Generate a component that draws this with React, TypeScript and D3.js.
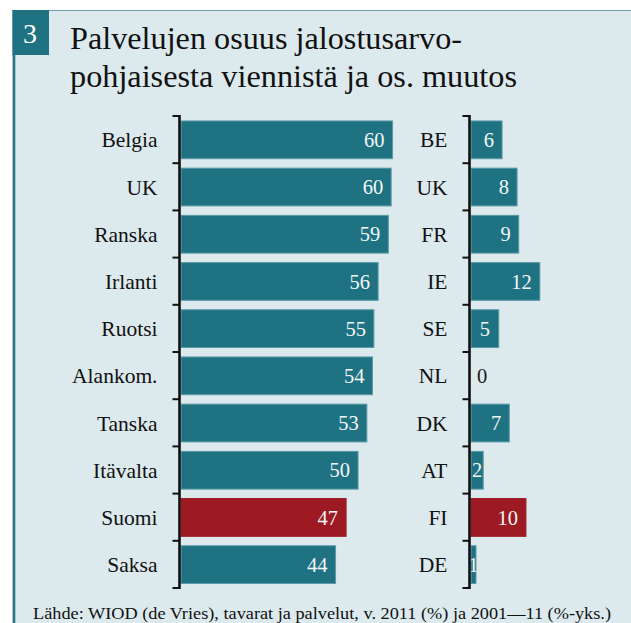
import React from "react";
import * as d3 from "d3";

const leftCategories = ["Belgia", "UK", "Ranska", "Irlanti", "Ruotsi", "Alankom.", "Tanska", "Itävalta", "Suomi", "Saksa"];
const leftValues = [60.1, 59.7, 58.9, 56.0, 54.8, 54.4, 52.8, 50.3, 46.9, 43.9];
const rightCategories = ["BE", "UK", "FR", "IE", "SE", "NL", "DK", "AT", "FI", "DE"];
const rightValues = [5.6, 8.3, 8.6, 12.4, 5.0, 0, 6.9, 2.2, 9.9, 0.9];
const highlight = "Suomi";
const highlightCode = "FI";
const titleLines = ["Palvelujen osuus jalostusarvo-", "pohjaisesta viennistä ja os. muutos"];
const chartNumber = "3";
const sourceText = "Lähde: WIOD (de Vries), tavarat ja palvelut, v. 2011 (%) ja 2001—11 (%-yks.)";

const W = 631;
const H = 623;
const FONT = "'Liberation Serif', 'DejaVu Serif', serif";
const BG = "#dce9ed";
const TEAL = "#1f7282";
const RED = "#9e1a23";
const fmt = d3.format(".0f");

function Panel({ cats, vals, hi, axisX, x, y }: any) {
  const step = y.step();
  const ticks = d3.range(cats.length + 1).map((i) => y.range()[0] + i * step);
  return (
    <g>
      {cats.map((c: string, i: number) => {
        const v = vals[i];
        const y0 = (y(c) as number) + step * 0.105;
        const h = step * 0.8;
        const x0 = x(0);
        const x1 = x(v);
        const w = x1 - x0;
        let lx = x1 - 8;
        let anchor = "end";
        let fill = "#f2f6f6";
        if (v === 0) {
          lx = x0 + 6;
          anchor = "start";
          fill = "#1a1a1a";
        } else if (w < 28) {
          lx = x0 + w / 2;
          anchor = "middle";
        }
        return (
          <g key={c}>
            <rect x={x0} y={y0} width={Math.max(w, 0)} height={h}
              fill={c === hi ? RED : TEAL}
              stroke={c === hi ? RED : "#5c9ba7"} strokeWidth={1} />
            <text x={lx} y={y0 + h / 2} dy="0.35em" textAnchor={anchor} fill={fill}
              fontSize={20.5} fontFamily={FONT}>{fmt(v)}</text>
            <text x={axisX - 22} y={y0 + h / 2} dy="0.35em" textAnchor="end" fill="#111"
              fontSize={21.5} fontFamily={FONT}>{c}</text>
          </g>
        );
      })}
      <line x1={axisX} x2={axisX} y1={ticks[0] - 1} y2={ticks[ticks.length - 1] + 1} stroke="#111" strokeWidth={2.6} />
      {ticks.map((t, i) => (
        <line key={i} x1={axisX - 7} x2={axisX} y1={t} y2={t} stroke="#111" strokeWidth={2} />
      ))}
    </g>
  );
}

export default function App() {
  const yL = d3.scaleBand<string>().domain(leftCategories).range([116, 588]).padding(0);
  const yR = d3.scaleBand<string>().domain(rightCategories).range([116, 588]).padding(0);
  const xL = d3.scaleLinear().domain([0, 100]).range([181, 181 + 352]);
  const xR = d3.scaleLinear().domain([0, 10]).range([471, 526.5]);
  const titleWidths = [392, 447];
  return (
    <svg width={W} height={H} style={{ position: "absolute", left: 0, top: 0, background: "#fff" }}>
      <rect x={12} y={10} width={W - 12} height={H - 10} fill={BG} />
      <line x1={12} x2={W} y1={10.5} y2={10.5} stroke="#6d9ca6" strokeWidth={1} />
      <line x1={14} x2={14} y1={10} y2={H} stroke="#2b7585" strokeWidth={2.6} />
      <rect x={12.5} y={10} width={36.5} height={45} fill={TEAL} />
      <text x={30} y={43} textAnchor="middle" fill="#fff" fontSize={28} fontFamily={FONT}>{chartNumber}</text>
      {titleLines.map((t, i) => (
        <text key={i} x={70} y={49 + i * 38} fill="#111" fontSize={31} fontFamily={FONT}
          textLength={titleWidths[i]} lengthAdjust="spacingAndGlyphs">{t}</text>
      ))}
      <Panel cats={leftCategories} vals={leftValues} hi={highlight} axisX={179.5} x={xL} y={yL} />
      <Panel cats={rightCategories} vals={rightValues} hi={highlightCode} axisX={469.5} x={xR} y={yR} />
      <text x={33} y={619} fill="#111" fontSize={16.5} fontFamily={FONT}
        textLength={578} lengthAdjust="spacingAndGlyphs">{sourceText}</text>
    </svg>
  );
}
